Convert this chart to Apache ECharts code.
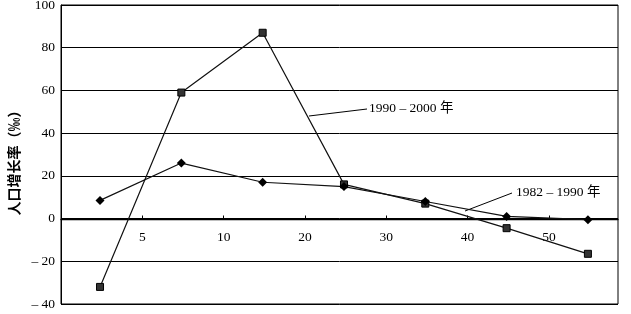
<!DOCTYPE html>
<html><head><meta charset="utf-8">
<script src="https://cdn.jsdelivr.net/npm/echarts@6/dist/echarts.min.js"></script>
<style>html,body{margin:0;padding:0;background:#fff}#c{width:631px;height:314px}</style>
</head><body><div id="c"></div>
<script>
var categories = ['0–4', '5–9', '10–19', '20–29', '30–39', '40–49', '50+'];
var s1990_2000 = [-32, 59, 87, 16, 7, -4.5, -16.5];
var s1982_1990 = [8.5, 26, 17, 15, 8, 1, -0.5];
var xTickLabels = ['5', '10', '20', '30', '40', '50'];
var yTickLabels = ['– 40', '– 20', '0', '20', '40', '60', '80', '100'];
var seriesNames = ['1990 – 2000 年', '1982 – 1990 年'];
var yName = '人口增长率（‰）';

var serif = '"Liberation Serif", "Noto Sans CJK SC", serif';
function pairs(arr){ return arr.map(function(v,i){ return [i, v]; }); }

var chart = echarts.init(document.getElementById('c'), null, {renderer:'canvas'});
chart.setOption({
  animation: false,
  backgroundColor: '#fff',
  grid: {left: 61, right: 13, top: 5, bottom: 10, outerBoundsMode: 'none', containLabel: false,
         show: true, borderColor: '#000', borderWidth: 1},
  xAxis: [
    {type: 'value', min: 0, max: 6.85, interval: 1, position: 'bottom', offset: -84.5,
     axisLine: {show: true, onZero: false, lineStyle: {color: '#000', width: 1.3}},
     axisTick: {show: true, inside: true, length: 4, lineStyle: {color: '#000'}},
     axisLabel: {show: true, margin: 11, color: '#000', fontFamily: serif, fontSize: 13.5,
       showMaxLabel: false, showMinLabel: false,
       formatter: function(v){ var k = Math.round(v); return (k >= 1 && k <= xTickLabels.length) ? xTickLabels[k-1] : ''; }},
     splitLine: {show: false}},
    {type: 'value', min: -0.48, max: 6.37, show: false}
  ],
  yAxis: {type: 'value', min: -40, max: 100, interval: 20,
    name: yName, nameLocation: 'middle', nameRotate: 90, nameGap: 38,
    nameTextStyle: {fontFamily: '"Noto Sans CJK SC", sans-serif', fontSize: 14, color: '#000', fontWeight: 'bold',
      padding: [0, 10, 0, 0]},
    axisLine: {show: true, lineStyle: {color: '#000'}},
    axisTick: {show: false},
    axisLabel: {color: '#000', fontFamily: serif, fontSize: 13.5, margin: 6,
      formatter: function(v){ return yTickLabels[Math.round((v + 40) / 20)]; }},
    splitLine: {show: true, lineStyle: {color: '#000', width: 1}}},
  series: [
    {name: seriesNames[0], type: 'line', xAxisIndex: 1, data: pairs(s1990_2000),
     symbol: 'rect', symbolSize: 7,
     lineStyle: {color: '#111', width: 1.2},
     itemStyle: {color: '#333', borderColor: '#000', borderWidth: 1}},
    {name: seriesNames[1], type: 'line', xAxisIndex: 1, data: pairs(s1982_1990),
     symbol: 'diamond', symbolSize: 9,
     lineStyle: {color: '#111', width: 1.2},
     itemStyle: {color: '#000'}}
  ],
  graphic: [
    {type: 'line', shape: {x1: 309, y1: 116, x2: 367, y2: 109}, style: {stroke: '#000', lineWidth: 1}},
    {type: 'text', left: 369, top: 102, style: {text: seriesNames[0], fill: '#000', font: '13.5px ' + serif}},
    {type: 'line', shape: {x1: 465, y1: 211, x2: 512, y2: 193}, style: {stroke: '#000', lineWidth: 1}},
    {type: 'text', left: 516, top: 186, style: {text: seriesNames[1], fill: '#000', font: '13.5px ' + serif}}
  ]
});
</script></body></html>
